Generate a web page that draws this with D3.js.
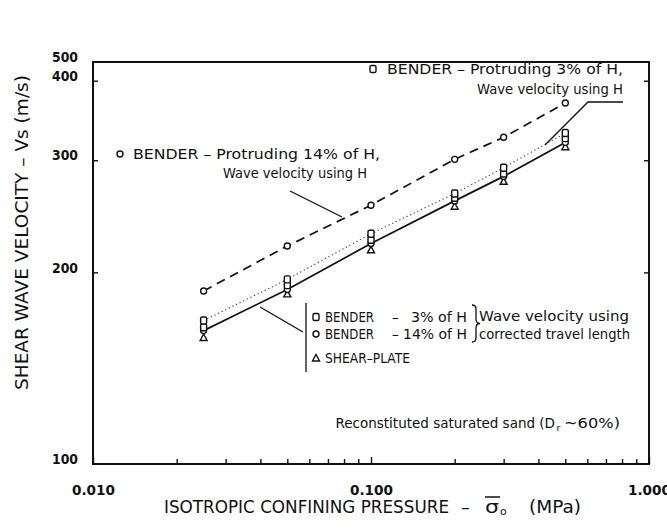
<!DOCTYPE html>
<html>
<head>
<meta charset="utf-8">
<script src="https://cdn.jsdelivr.net/npm/d3@7"></script>
<style>
  body { margin: 0; background: #fff; }
  text { font-family: "DejaVu Sans", sans-serif; fill: #111; }
</style>
</head>
<body>
<svg id="chart" width="667" height="532"></svg>
<script>
// Isotropic confining pressure (MPa) at each test stage
const pressures = [0.025, 0.05, 0.1, 0.2, 0.3, 0.5];

// Shear wave velocity Vs (m/s)
const bender14UsingH = [187, 220, 255, 301, 326, 369];   // protruding 14% of H, wave velocity using H
const bender3UsingH  = [168, 195, 230, 266, 292, 331];   // protruding 3% of H, wave velocity using H
const bender3Corr    = [164, 191, 225, 262, 286, 325];   // 3% of H, corrected travel length
const bender14Corr   = [162, 188, 222, 259, 283, 320];   // 14% of H, corrected travel length
const shearPlate     = [158, 185, 217, 254, 278, 315];

// Axis ticks
const yTickValues = [100, 200, 300, 400, 500];
const yTickLabels = ["100", "200", "300", "400", "500"];
const yInnerTicks = [200, 300, 400];
const xTickValues = [0.01, 0.1, 1];
const xTickLabels = ["0.010", "0.100", "1.000"];
const xMinorTicks = [0.02, 0.03, 0.04, 0.05, 0.06, 0.07, 0.08, 0.09,
                     0.2, 0.3, 0.4, 0.5, 0.6, 0.7, 0.8, 0.9];

const svg = d3.select("#chart");
const plotL = 93, plotR = 649, plotT = 62, plotB = 464;

const x = d3.scaleLog().domain([0.01, 1]).range([plotL, plotR]);
// the top of the frame carries the 500 label, so the scale is clamped there
const y = d3.scaleLog().domain([100, 428]).range([plotB, plotT]).clamp(true);

// ---- axes ----
const gLeft = svg.append("g").attr("transform", `translate(${plotL},0)`)
  .call(d3.axisLeft(y).tickValues(yTickValues)
        .tickFormat((d, i) => yTickLabels[i]).tickSize(-5).tickPadding(15));
gLeft.selectAll(".tick line").filter(d => !yInnerTicks.includes(d)).remove();
gLeft.selectAll("text").attr("font-size", 14).attr("font-weight", "bold")
  .attr("dy", "-0.02em").attr("font-family", "DejaVu Sans")
  .attr("textLength", 26).attr("lengthAdjust", "spacingAndGlyphs");

const gRight = svg.append("g").attr("transform", `translate(${plotR},0)`)
  .call(d3.axisRight(y).tickValues(yInnerTicks).tickFormat("").tickSize(-5));

const gBottom = svg.append("g").attr("transform", `translate(0,${plotB})`)
  .call(d3.axisBottom(x).tickValues(xTickValues)
        .tickFormat((d, i) => xTickLabels[i]).tickSize(-7).tickPadding(21));
gBottom.selectAll("text").attr("font-size", 14).attr("font-weight", "bold")
  .attr("font-family", "DejaVu Sans")
  .attr("textLength", 43).attr("lengthAdjust", "spacingAndGlyphs");

const gMinor = svg.append("g").attr("transform", `translate(0,${plotB})`)
  .call(d3.axisBottom(x).tickValues(xMinorTicks).tickFormat("").tickSize(-5));

svg.selectAll(".domain").remove();
svg.selectAll(".tick line").attr("stroke", "#111").attr("stroke-width", 1.4);

// frame
svg.append("rect")
  .attr("x", plotL).attr("y", plotT)
  .attr("width", plotR - plotL).attr("height", plotB - plotT)
  .attr("fill", "none").attr("stroke", "#111").attr("stroke-width", 2);

// ---- lines ----
const line = vals => d3.line()
  .x((d, i) => x(pressures[i]))
  .y(d => y(d))(vals);

svg.append("path").attr("d", line(bender14UsingH))
  .attr("fill", "none").attr("stroke", "#111").attr("stroke-width", 1.7)
  .attr("stroke-dasharray", "9,6");
svg.append("path").attr("d", line(bender3UsingH))
  .attr("fill", "none").attr("stroke", "#444").attr("stroke-width", 1.1)
  .attr("stroke-dasharray", "1.3,2.7");
svg.append("path").attr("d", line(bender14Corr))
  .attr("fill", "none").attr("stroke", "#111").attr("stroke-width", 1.7);

// ---- markers ----
function square(g, cx, cy) {
  g.append("rect").attr("x", cx - 3).attr("y", cy - 3.5)
    .attr("width", 6).attr("height", 7).attr("rx", 1.5)
    .attr("fill", "#fff").attr("stroke", "#111").attr("stroke-width", 1.4);
}
function circle(g, cx, cy) {
  g.append("circle").attr("cx", cx).attr("cy", cy).attr("r", 3)
    .attr("fill", "#fff").attr("stroke", "#111").attr("stroke-width", 1.4);
}
function triangle(g, cx, cy) {
  g.append("path")
    .attr("d", `M${cx},${cy - 3.5}L${cx + 3.5},${cy + 3}L${cx - 3.5},${cy + 3}Z`)
    .attr("fill", "#fff").attr("stroke", "#111").attr("stroke-width", 1.4);
}

const gMarks = svg.append("g");
pressures.forEach((p, i) => {
  const cx = x(p);
  triangle(gMarks, cx, y(shearPlate[i]));
  circle(gMarks, cx, y(bender14Corr[i]));
  square(gMarks, cx, y(bender3Corr[i]));
  square(gMarks, cx, y(bender3UsingH[i]));
  circle(gMarks, cx, y(bender14UsingH[i]));
});

// ---- annotations ----
const ann = svg.append("g").attr("font-size", 13.5);
function label(txt, tx, ty, width, anchor, size) {
  const t = ann.append("text").attr("x", tx).attr("y", ty)
    .attr("dominant-baseline", "central")
    .attr("text-anchor", anchor || "start").text(txt);
  if (size) t.attr("font-size", size);
  if (width) t.attr("textLength", width).attr("lengthAdjust", "spacingAndGlyphs");
  return t;
}
function leader(pts, w) {
  svg.append("path").attr("d", d3.line()(pts))
    .attr("fill", "none").attr("stroke", "#111").attr("stroke-width", w || 1.3);
}

// protruding 3% of H
square(ann, 373, 69);
label("BENDER – Protruding 3% of H,", 387, 69, 236);
label("Wave velocity using H", 623, 89, 146, "end");
leader([[623, 102], [588, 102], [545, 145]]);

// protruding 14% of H
circle(ann, 120, 154);
label("BENDER – Protruding 14% of H,", 133, 154, 247);
label("Wave velocity using H", 223, 173, 144);
leader([[290, 191], [342, 217]]);

// corrected travel length legend
leader([[260, 307], [303, 332]]);
leader([[306, 303], [306, 372]]);
square(ann, 316, 317);
label("BENDER", 325, 317, 49, "start", 14);
label("–", 392, 317);
label("3% of H", 467, 317, 56, "end", 14);
circle(ann, 316, 334);
label("BENDER", 325, 334, 49, "start", 14);
label("–", 392, 334);
label("14% of H", 467, 334, 64, "end", 14);
triangle(ann, 316, 358);
label("SHEAR–PLATE", 325, 358, 85, "start", 14);
svg.append("path")
  .attr("d", "M472,305q4,0 4,4v10q0,4.5 4,4.5q-4,0 -4,4.5v10q0,4 -4,4")
  .attr("fill", "none").attr("stroke", "#111").attr("stroke-width", 1.3);
label("Wave velocity using", 479, 316, 150);
label("corrected travel length", 479, 334, 151);

// soil description, with the subscript of D set as its own small text
label("Reconstituted saturated sand (D", 555, 423, null, "end", 13.5);
label("r", 556.5, 427.5, null, "start", 9.5);
label("~60%)", 620, 423, 56, "end", 13.5);

// ---- axis titles ----
const titleY = 507;
const tTitle = svg.append("g").attr("font-size", 17.5);
function titlePart(txt, tx, width, dy, size) {
  const t = tTitle.append("text").attr("x", tx).attr("y", titleY + (dy || 0))
    .attr("dominant-baseline", "central").text(txt);
  if (width) t.attr("textLength", width).attr("lengthAdjust", "spacingAndGlyphs");
  if (size) t.attr("font-size", size);
  return t;
}
titlePart("ISOTROPIC CONFINING PRESSURE", 164, 285);
titlePart("–", 461);
titlePart("σ", 485, 14);
titlePart("o", 500, null, 4, 11);
titlePart("(MPa)", 529, 52);
// bar over sigma
leader([[485, 497], [500, 497]], 1.5);

svg.append("text")
  .attr("transform", "translate(22,390) rotate(-90)")
  .attr("dominant-baseline", "central")
  .attr("font-size", 17.5)
  .attr("textLength", 315).attr("lengthAdjust", "spacingAndGlyphs")
  .text("SHEAR WAVE VELOCITY – Vs (m/s)");
</script>
</body>
</html>
